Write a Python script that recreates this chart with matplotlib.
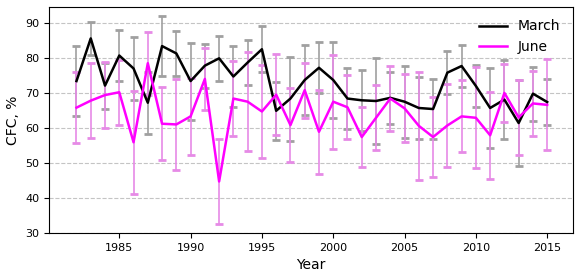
import matplotlib.pyplot as plt
import numpy as np

# ------------------------- data -------------------------
years = np.arange(1982, 2016)

march_mean = [73.5, 85.7, 72.2, 80.8, 77.1, 67.3, 83.5, 81.4, 73.5, 77.9,
              80.0, 74.8, 78.8, 82.6, 65.0, 68.5, 73.8, 77.3, 73.8, 68.5,
              68.0, 67.8, 68.7, 67.6, 65.8, 65.5, 75.9, 77.8, 72.1, 65.8,
              68.2, 61.5, 69.9, 67.5]
march_err = [10.0, 4.7, 6.6, 7.2, 9.0, 8.9, 8.5, 6.5, 11.0, 6.3,
             6.4, 8.6, 6.4, 6.5, 8.3, 12.0, 9.9, 7.3, 10.9, 8.6,
             8.7, 12.2, 7.4, 10.3, 8.9, 8.7, 6.1, 6.1, 5.9, 11.4,
             11.3, 12.2, 7.7, 6.6]

june_mean = [65.9, 67.9, 69.5, 70.3, 56.0, 78.6, 61.3, 61.1, 63.4, 74.1,
             44.8, 68.5, 67.6, 64.8, 69.6, 60.9, 70.9, 59.0, 67.6, 66.0,
             57.5, 63.0, 68.5, 65.7, 60.7, 57.5, 60.8, 63.4, 63.0, 58.0,
             70.1, 63.1, 67.1, 66.7]
june_err = [10.1, 10.8, 9.4, 9.3, 14.8, 9.0, 10.5, 13.0, 10.9, 8.9,
            12.1, 10.7, 14.1, 13.4, 11.6, 10.5, 7.9, 12.0, 13.4, 9.2,
            8.5, 9.3, 9.2, 9.7, 15.4, 11.3, 11.9, 10.3, 14.4, 12.4,
            8.4, 10.7, 9.3, 13.0]

# ------------------------------- plotting ----------------------------------
fig, ax = plt.subplots(figsize=(5.81, 2.76), dpi=100)
fig.subplots_adjust(left=0.085, right=0.986, top=0.975, bottom=0.155)

ax.yaxis.grid(True, linestyle='--', color='#c4c4c4', linewidth=0.8)
ax.set_axisbelow(True)

# error bars: light vertical line, darker caps
eb = ax.errorbar(years, march_mean, yerr=march_err, fmt='none',
                 ecolor='#a0a0a0', elinewidth=1.2, capsize=3, capthick=2)
for cap in eb[1]:
    cap.set_color('#7f7f7f')
eb = ax.errorbar(years, june_mean, yerr=june_err, fmt='none',
                 ecolor='#e68ae6', elinewidth=1.2, capsize=3, capthick=2)
for cap in eb[1]:
    cap.set_color('#da6fda')

ax.plot(years, march_mean, color='black', linewidth=1.8, label='March')
ax.plot(years, june_mean, color='#ff00ff', linewidth=1.8, label='June')

ax.set_xlim(1980.1, 2016.8)
ax.set_ylim(30, 94.7)
ax.set_xticks([1985, 1990, 1995, 2000, 2005, 2010, 2015])
ax.set_yticks([30, 40, 50, 60, 70, 80, 90])
ax.tick_params(labelsize=8)
ax.set_xlabel('Year', fontsize=10)
ax.set_ylabel('CFC, %', fontsize=10)

ax.legend(loc='upper right', frameon=False, fontsize=10)

fig.savefig('out.png', dpi=100)
